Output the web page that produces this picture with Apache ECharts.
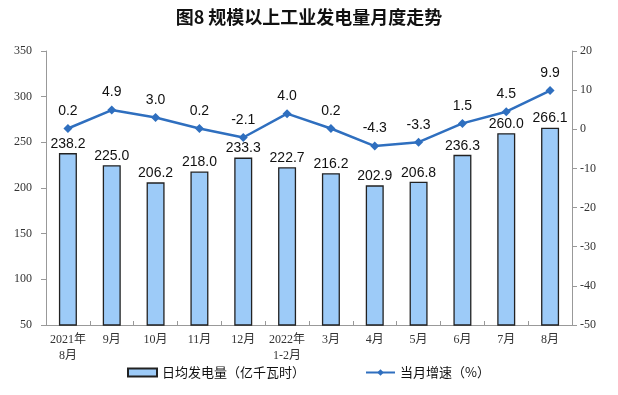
<!DOCTYPE html>
<html><head><meta charset="utf-8">
<script src="https://cdn.jsdelivr.net/npm/echarts@6/dist/echarts.min.js"></script>
<style>html,body{margin:0;padding:0;background:#fff}#c{width:618px;height:395px}</style>
</head><body><div id="c"></div>
<script>
var categories = ['2021年\n8月','9月','10月','11月','12月','2022年\n1-2月','3月','4月','5月','6月','7月','8月'];
var dailyOutput = [238.2,225.0,206.2,218.0,233.3,222.7,216.2,202.9,206.8,236.3,260.0,266.1];
var growthRate = [0.2,4.9,3.0,0.2,-2.1,4.0,0.2,-4.3,-3.3,1.5,4.5,9.9];
var leftTicks = [50,100,150,200,250,300,350];
var rightTicks = [-50,-40,-30,-20,-10,0,10,20];

var chart = echarts.init(document.getElementById('c'));
var axisLabelStyle = {color:'#333', fontSize:12, fontFamily:'"Liberation Serif","Noto Sans CJK SC",serif'};
chart.setOption({
  animation:false,
  title:{text:'图8 规模以上工业发电量月度走势', left:'center', top:3,
    textStyle:{fontSize:18, fontWeight:'bold', color:'#111', fontFamily:'"Noto Sans CJK SC",sans-serif'}},
  legend:{bottom:11, left:122, itemGap:60, itemWidth:29, itemHeight:8,
    textStyle:{fontSize:13, color:'#111', fontFamily:'"Noto Sans CJK SC",sans-serif'},
    data:[{name:'日均发电量（亿千瓦时）', icon:'rect'},{name:'当月增速（%）'}]},
  grid:{left:46, right:46, top:51, bottom:70},
  xAxis:{type:'category', data:categories,
    axisLine:{onZero:false, lineStyle:{color:'#999'}},
    axisTick:{show:true, inside:true, length:4, lineStyle:{color:'#999'}},
    axisLabel:Object.assign({interval:0, lineHeight:16, margin:7}, axisLabelStyle)},
  yAxis:[
    {type:'value', min:50, max:350, interval:50, position:'left',
     axisLine:{show:true, lineStyle:{color:'#999'}},
     axisTick:{show:true, length:5, lineStyle:{color:'#999'}},
     splitLine:{show:false},
     axisLabel:Object.assign({margin:14}, axisLabelStyle)},
    {type:'value', min:-50, max:20, interval:10, position:'right',
     axisLine:{show:true, lineStyle:{color:'#999'}},
     axisTick:{show:true, length:5, lineStyle:{color:'#999'}},
     splitLine:{show:false},
     axisLabel:Object.assign({margin:8}, axisLabelStyle)}
  ],
  series:[
    {name:'日均发电量（亿千瓦时）', type:'bar', yAxisIndex:0, data:dailyOutput, barWidth:18,
     itemStyle:{color:'#9DCBF8', borderColor:'#222', borderWidth:1.3},
     label:{show:true, position:'top', distance:2, color:'#111', fontSize:14,
       fontFamily:'"Liberation Sans",Arial,sans-serif', formatter:function(p){return p.value.toFixed(1);}}},
    {name:'当月增速（%）', type:'line', yAxisIndex:1, data:growthRate,
     symbol:'diamond', symbolSize:9, lineStyle:{color:'#2F6FBF', width:2.5},
     itemStyle:{color:'#2F6FBF'},
     label:{show:true, position:'top', distance:6, color:'#111', fontSize:14,
       fontFamily:'"Liberation Sans",Arial,sans-serif', formatter:function(p){return p.value.toFixed(1);}}}
  ]
});
</script></body></html>
